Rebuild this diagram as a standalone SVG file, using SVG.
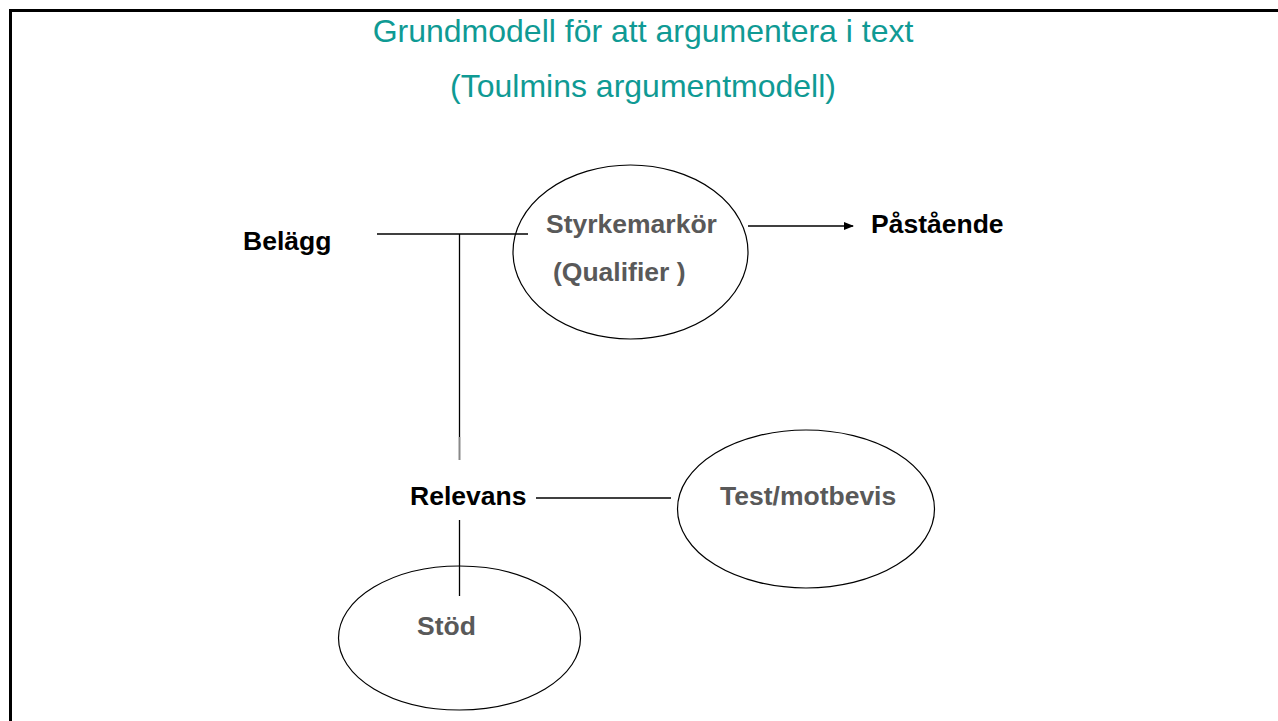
<svg xmlns="http://www.w3.org/2000/svg" width="1278" height="721" viewBox="0 0 1278 721">
<defs>
<style>
.title{font-family:"Liberation Sans",Arial,sans-serif;font-size:32px;fill:#0F9A94;text-anchor:middle}
.lbl{font-family:"Liberation Sans",Arial,sans-serif;font-size:26.5px;font-weight:bold}
.dark{fill:#000}
.gray{fill:#595959}
.ell{fill:none;stroke:#000;stroke-width:1.2}
.ln{stroke:#000;stroke-width:1.3;fill:none}
</style>
<marker id="arr" markerWidth="10" markerHeight="8" refX="9" refY="4" orient="auto" markerUnits="userSpaceOnUse">
<path d="M0,0 L10,4 L0,8 z" fill="#000"/>
</marker>
</defs>
<rect width="1278" height="721" fill="#fff"/>
<path d="M10.5,721 L10.5,10.5 L1278,10.5" fill="none" stroke="#000" stroke-width="3"/>
<g id="title">
<text class="title" x="643" y="42">Grundmodell för att argumentera i text</text>
<text class="title" x="643" y="97">(Toulmins argumentmodell)</text>
</g>
<g id="connectors">
<line class="ln" x1="377" y1="234" x2="528" y2="234"/>
<line class="ln" x1="459.5" y1="234" x2="459.5" y2="437" stroke-width="2"/>
<line x1="459.5" y1="437" x2="459.5" y2="460" stroke="#888" stroke-width="2"/>
<line class="ln" x1="748" y1="226" x2="853" y2="226" marker-end="url(#arr)"/>
<line class="ln" x1="536" y1="498" x2="671" y2="498"/>
<line class="ln" x1="459.5" y1="520" x2="459.5" y2="596" stroke-width="2"/>
</g>
<g id="belagg"><text class="lbl dark" x="243" y="250">Belägg</text></g>
<g id="styrkemarkor">
<ellipse class="ell" cx="630.5" cy="252" rx="117.5" ry="87"/>
<text class="lbl gray" x="546" y="233">Styrkemarkör</text>
<text class="lbl gray" x="553" y="281">(Qualifier )</text>
</g>
<g id="pastaende"><text class="lbl dark" x="871" y="233">Påstående</text></g>
<g id="relevans"><text class="lbl dark" x="410" y="505">Relevans</text></g>
<g id="test">
<ellipse class="ell" cx="806" cy="509" rx="128.5" ry="79"/>
<text class="lbl gray" x="720" y="505">Test/motbevis</text>
</g>
<g id="stod">
<ellipse class="ell" cx="459.5" cy="638" rx="121" ry="72"/>
<text class="lbl gray" x="417" y="635">Stöd</text>
</g>
</svg>
